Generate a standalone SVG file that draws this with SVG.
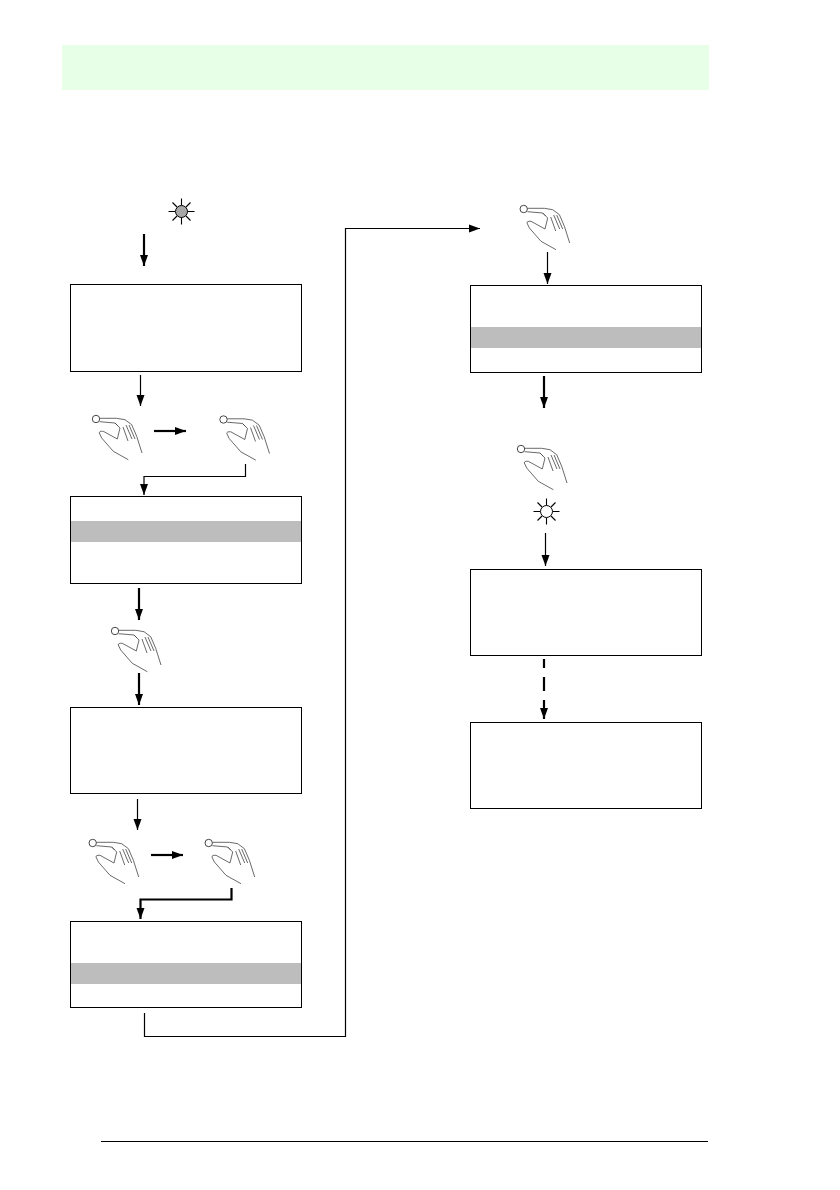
<svg xmlns="http://www.w3.org/2000/svg" width="840" height="1190" viewBox="0 0 840 1190">
<style>
.box{fill:#fff;stroke:#000;stroke-width:1}
.band{fill:#bdbdbd}
.c{fill:none;stroke:#000;stroke-width:1.2}
.t{fill:none;stroke:#000;stroke-width:2.2}
.hand path{fill:none;stroke:#444;stroke-width:.8}
.hand circle{fill:#fff;stroke:#333;stroke-width:.9}
.ray{stroke:#000;stroke-width:1.1}
</style>
<defs>
<marker id="a" markerUnits="userSpaceOnUse" markerWidth="12" markerHeight="10" refX="11" refY="5" orient="auto"><path d="M0 1L11 5L0 9Z" fill="#000"/></marker>
<g id="hand" class="hand">
<path d="M3.7 -.7L20.7 -.7L29 .7L35.7 5.7L40.7 17.3L46 34"/>
<path d="M3.7 2.7L19 4L24 9L21.3 20L7.3 12.3Q3 12 3.3 14L5.7 19L17.3 32.3L32.3 40.7"/>
<path d="M19 4L22 7M30 6L36 20M33 6L39 20M27 8L32 22" stroke-width=".5"/>
<circle r="3.7"/>
</g>
<g id="rays">
<path class="ray" d="M0 -13V-6M0 6V13M-13 0H-6M6 0H13M-9 -9L-4.5 -4.5M4.5 4.5L9 9M-9 9L-4.5 4.5M4.5 -4.5L9 -9"/>
</g>
</defs>
<rect id="header" x="62" y="45" width="647" height="45" fill="#e6ffe6"/>
<path id="footer" d="M101 1141.500H708" stroke="#000" stroke-width="1"/>
<g id="led1"><use href="#rays" x="181.500" y="211.500"/><circle cx="181.500" cy="211.500" r="6" fill="#a8a8a8" stroke="#000"/></g>
<g id="led2"><use href="#rays" x="546.500" y="511.500"/><circle cx="546.500" cy="511.500" r="6" fill="#fff" stroke="#000"/></g>
<g id="box1"><rect class="box" x="70.500" y="284.500" width="231" height="87"/></g>
<g id="box2"><rect class="box" x="70.500" y="496.500" width="231" height="87"/><rect class="band" x="71" y="521" width="230" height="21"/></g>
<g id="box3"><rect class="box" x="70.500" y="707.500" width="231" height="86"/></g>
<g id="box4"><rect class="box" x="70.500" y="921.500" width="231" height="86"/><rect class="band" x="71" y="963" width="230" height="21"/></g>
<g id="box5"><rect class="box" x="470.500" y="285.500" width="231" height="87"/><rect class="band" x="471" y="327" width="230" height="21"/></g>
<g id="box6"><rect class="box" x="470.500" y="569.500" width="231" height="86"/></g>
<g id="box7"><rect class="box" x="470.500" y="722.500" width="231" height="86"/></g>
<g id="hand1"><use href="#hand" x="96" y="419"/></g>
<g id="hand2"><use href="#hand" x="223.500" y="419.500"/></g>
<g id="hand3"><use href="#hand" x="115" y="631"/></g>
<g id="hand4"><use href="#hand" x="92.700" y="843"/></g>
<g id="hand5"><use href="#hand" x="208.700" y="843"/></g>
<g id="hand6"><use href="#hand" x="523.700" y="209"/></g>
<g id="hand7"><use href="#hand" x="521" y="449"/></g>
<g id="connectors">
<path class="t" marker-end="url(#a)" d="M144 234V266"/>
<path class="c" marker-end="url(#a)" d="M140.500 375V406"/>
<path class="t" marker-end="url(#a)" d="M154 431H186"/>
<path class="c" marker-end="url(#a)" d="M245.500 464V476.500H144V495"/>
<path class="t" marker-end="url(#a)" d="M139 588V620"/>
<path class="t" marker-end="url(#a)" d="M139 673V705"/>
<path class="c" marker-end="url(#a)" d="M137.500 799V830"/>
<path class="t" marker-end="url(#a)" d="M151 855H183"/>
<path class="t" marker-end="url(#a)" d="M231.500 888V899.500H140.500V919"/>
<path class="c" marker-end="url(#a)" d="M144.500 1013V1036.500H345.500V228.500H480"/>
<path class="c" marker-end="url(#a)" d="M547.500 252V284"/>
<path class="t" marker-end="url(#a)" d="M544 376V408"/>
<path class="c" marker-end="url(#a)" d="M545.500 533V566"/>
<path class="t" d="M544 659V668M544 677V691"/>
<path class="t" marker-end="url(#a)" d="M544 700V719"/>
</g>
</svg>
